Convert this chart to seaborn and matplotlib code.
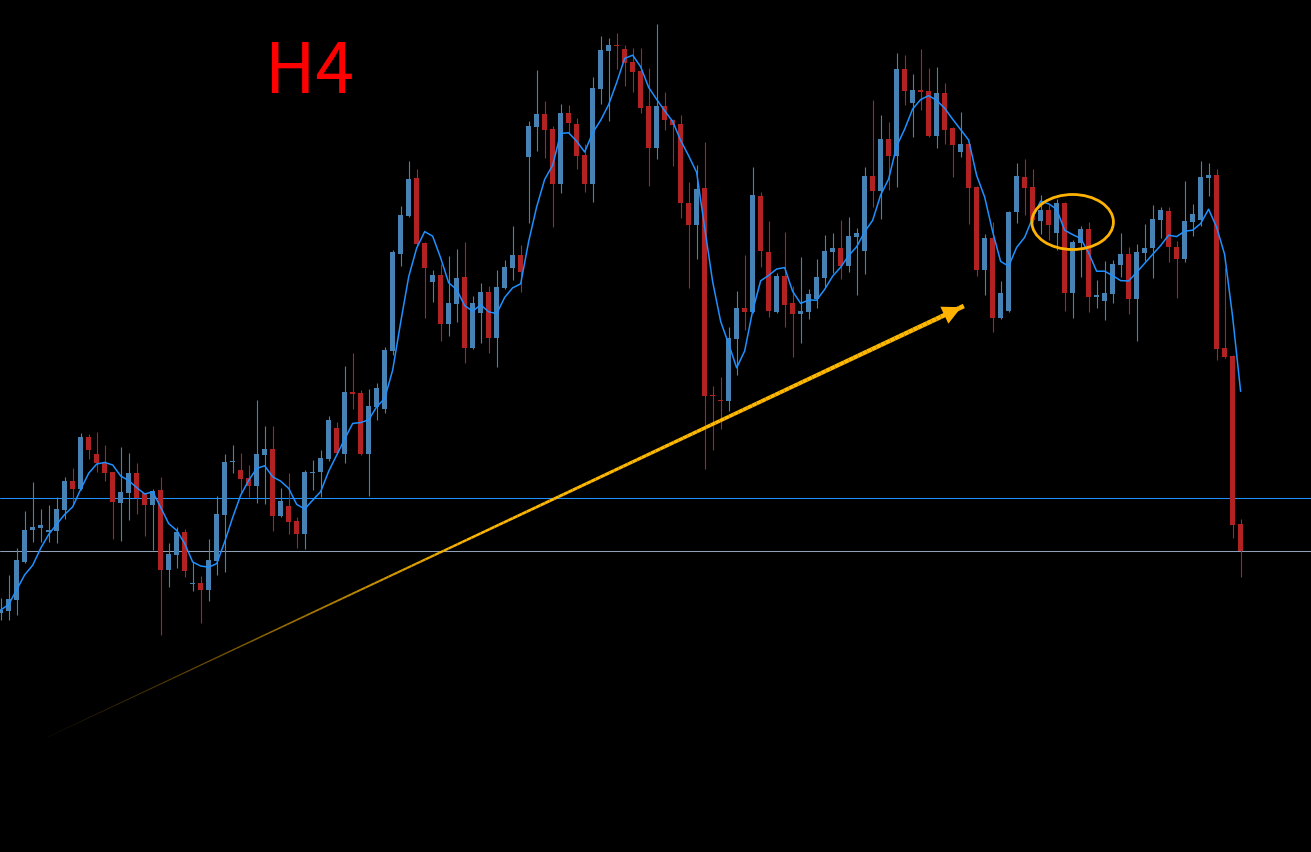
import numpy as np
import pandas as pd
import matplotlib
matplotlib.use('Agg')
import matplotlib.pyplot as plt
import seaborn as sns
from matplotlib.collections import LineCollection
from matplotlib.patches import Ellipse, FancyArrowPatch

# OHLC prices (one value per candle)
opens = [387, 389, 400, 438, 470, 472, 468, 469, 490, 519,
         511, 563, 546, 537, 528, 497, 507, 527, 507, 495,
         510, 430, 445, 468, 416, 417, 410, 439, 485, 538,
         530, 522, 514, 545, 551, 484, 494, 479, 466, 527,
         528, 541, 572, 546, 608, 607, 546, 593, 591, 649,
         746, 784, 822, 757, 718, 725, 676, 696, 723, 652,
         687, 708, 662, 712, 732, 745, 843, 873, 886, 871,
         816, 887, 876, 845, 816, 911, 949, 955, 951, 938,
         929, 894, 852, 894, 880, 876, 797, 775, 812, 605,
         600, 599, 661, 692, 688, 804, 748, 688, 724, 697,
         686, 688, 701, 722, 748, 752, 734, 763, 749, 824,
         809, 861, 844, 931, 897, 910, 909, 864, 907, 872,
         848, 856, 813, 730, 762, 682, 689, 788, 823, 813,
         779, 790, 767, 797, 707, 757, 771, 703, 699, 706,
         735, 746, 701, 747, 752, 780, 789, 753, 741, 778,
         780, 822, 825, 652, 644, 476]
closes = [390, 401, 440, 470, 473, 475, 470, 491, 519, 511,
          563, 550, 537, 527, 498, 508, 527, 502, 495, 509,
          430, 446, 468, 429, 417, 410, 440, 486, 538, 539,
          521, 514, 546, 551, 484, 499, 478, 466, 528, 528,
          542, 580, 547, 608, 606, 546, 594, 612, 650, 748,
          785, 821, 756, 732, 725, 676, 697, 722, 652, 697,
          708, 662, 713, 733, 745, 728, 874, 886, 870, 816,
          887, 877, 844, 816, 912, 950, 955, 954, 937, 928,
          892, 852, 894, 880, 875, 797, 775, 811, 604, 604,
          599, 662, 692, 688, 805, 749, 689, 724, 695, 686,
          689, 706, 723, 749, 752, 734, 764, 767, 824, 809,
          861, 844, 931, 909, 910, 908, 864, 907, 870, 855,
          856, 812, 730, 762, 682, 707, 788, 824, 812, 780,
          790, 775, 797, 707, 758, 771, 703, 705, 707, 736,
          746, 701, 748, 752, 781, 790, 753, 741, 779, 786,
          823, 825, 651, 643, 475, 449]
highs = [402, 425, 452, 489, 518, 491, 495, 503, 523, 532,
         567, 566, 568, 555, 528, 553, 547, 537, 507, 511,
         523, 457, 473, 471, 438, 424, 461, 504, 546, 555,
         547, 535, 600, 574, 574, 512, 527, 483, 530, 540,
         550, 584, 578, 634, 647, 610, 611, 617, 653, 750,
         794, 839, 831, 758, 730, 736, 744, 751, 758, 704,
         717, 714, 730, 740, 774, 755, 879, 930, 899, 874,
         896, 895, 882, 856, 923, 964, 962, 967, 955, 952,
         952, 932, 976, 908, 881, 885, 818, 835, 858, 614,
         623, 673, 709, 745, 833, 808, 779, 727, 768, 714,
         743, 711, 741, 765, 767, 780, 783, 772, 833, 900,
         885, 878, 947, 945, 926, 951, 932, 933, 917, 873,
         888, 857, 814, 766, 778, 719, 789, 837, 841, 831,
         805, 795, 801, 798, 760, 774, 778, 720, 739, 740,
         767, 753, 756, 776, 795, 793, 793, 759, 819, 796,
         839, 837, 831, 732, 645, 481]
lows = [380, 380, 385, 437, 458, 458, 458, 457, 481, 495,
        510, 541, 528, 519, 461, 459, 480, 486, 464, 450,
        365, 413, 432, 423, 409, 377, 399, 425, 428, 527,
        507, 503, 497, 496, 469, 483, 466, 452, 451, 510,
        503, 539, 546, 537, 591, 545, 504, 580, 587, 645,
        734, 783, 754, 682, 698, 659, 664, 678, 637, 651,
        657, 647, 633, 711, 720, 708, 777, 849, 842, 773,
        807, 867, 831, 808, 798, 896, 879, 931, 914, 908,
        887, 814, 841, 870, 834, 782, 712, 741, 531, 550,
        571, 589, 625, 670, 687, 733, 683, 687, 673, 643,
        657, 681, 692, 713, 727, 721, 728, 705, 726, 793,
        781, 810, 813, 895, 863, 890, 863, 852, 856, 823,
        843, 776, 724, 705, 668, 681, 688, 777, 785, 778,
        766, 760, 750, 689, 682, 723, 688, 692, 680, 697,
        723, 686, 659, 739, 722, 762, 738, 702, 738, 764,
        774, 804, 640, 642, 462, 423]

# horizontal levels and annotation anchors (price units, candle index)
levels = [502.5, 449.5]
level_colors = ['#1E90FF', '#8DA0B8']
arrow_start = (5.9, 263)
arrow_end = (120.4, 694)
circle_center = (134.0, 778)

df = pd.DataFrame({'open': opens, 'high': highs, 'low': lows, 'close': closes})
df['idx'] = np.arange(len(df))
df['ma'] = df['close'].rolling(5, min_periods=1).mean()
df['up'] = df['close'] >= df['open']

UP_COLOR = '#4682B4'
DOWN_COLOR = '#B22222'
GOLD = '#FFB300'

sns.set_theme(style='dark', rc={'axes.facecolor': 'black', 'figure.facecolor': 'black'})

fig = plt.figure(figsize=(13.11, 8.52), dpi=100)
ax = fig.add_axes([0, 0, 1, 1])
ax.set_facecolor('black')

# horizontal support lines
for lvl, col in zip(levels, level_colors):
    ax.axhline(lvl, color=col, lw=0.75, zorder=1)

# candles: wicks then bodies
colors = np.where(df['up'], UP_COLOR, DOWN_COLOR)
ax.vlines(df['idx'], df['low'], df['high'], colors=colors, lw=0.8, zorder=2)
body_bottom = np.minimum(df['open'], df['close'])
body_height = np.maximum(np.abs(df['close'] - df['open']), 1.5)
ax.bar(df['idx'], body_height, bottom=body_bottom, width=0.62,
       color=colors, linewidth=0, zorder=3)

# 5-period moving average of closes
sns.lineplot(data=df, x='idx', y='ma', ax=ax, color='#1E90FF', lw=1.1,
             zorder=4, legend=False)

# fading golden arrow
n = 200
xs = np.linspace(arrow_start[0], arrow_end[0], n)
ys = np.linspace(arrow_start[1], arrow_end[1], n)
pts = np.column_stack([xs, ys]).reshape(-1, 1, 2)
segs = np.concatenate([pts[:-1], pts[1:]], axis=1)
t = np.linspace(0, 1, n - 1)
seg_colors = [(1.0, 0.72, 0.0, min(1.0, 0.08 + 2.0 * v)) for v in t]
lc = LineCollection(segs, colors=seg_colors, linewidths=0.4 + 3.0 * t, zorder=5,
                    capstyle='butt')
ax.add_collection(lc)
head = FancyArrowPatch((arrow_end[0] - 1.8, arrow_end[1] - 6.8), arrow_end,
                       arrowstyle='-|>,head_length=0.9,head_width=0.45',
                       mutation_scale=15, color=GOLD, lw=0, zorder=6)
ax.add_patch(head)

# circle around the breakdown
ax.add_patch(Ellipse(circle_center, width=10.2, height=55, fill=False,
                     edgecolor=GOLD, lw=2.0, zorder=6))

ax.set_xlim(-0.09, 163.8)
ax.set_ylim(148, 1000)
ax.set_xticks([])
ax.set_yticks([])
ax.set_xlabel('')
ax.set_ylabel('')
for s in ax.spines.values():
    s.set_visible(False)

fig.text(265 / 1311, 1 - 93 / 852, 'H4', color='#FF0000', fontsize=50,
         family=['Noto Sans CJK SC', 'DejaVu Sans'], fontweight='medium',
         ha='left', va='baseline')

fig.savefig('out.png', dpi=100, facecolor='black')
